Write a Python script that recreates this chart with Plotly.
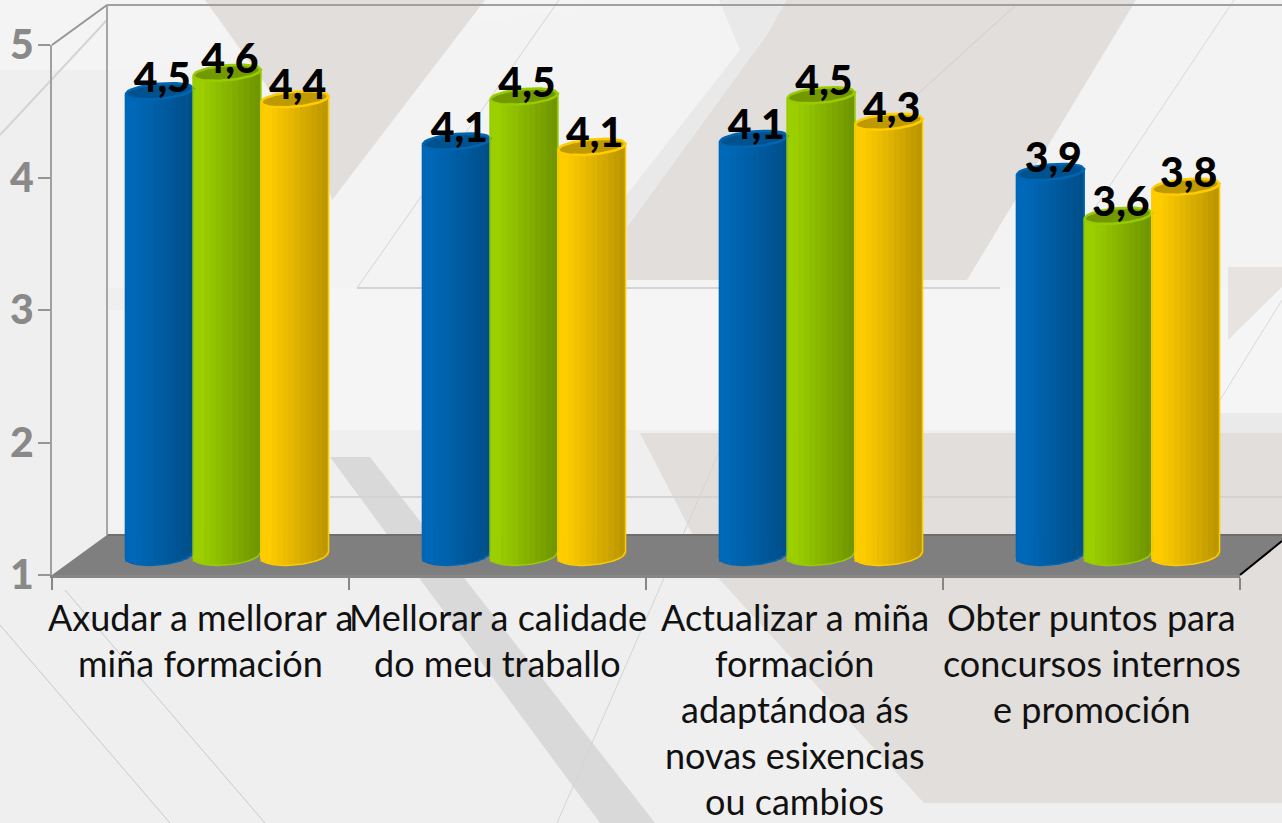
import math
import plotly.graph_objects as go

W, H = 1282, 823
categories = [
    ["Axudar a mellorar a", "miña formación"],
    ["Mellorar a calidade", "do meu traballo"],
    ["Actualizar a miña", "formación", "adaptándoa ás", "novas esixencias", "ou cambios"],
    ["Obter puntos para", "concursos internos", "e promoción"],
]
series_a = [4.50, 4.12, 4.14, 3.89]
series_b = [4.64, 4.46, 4.47, 3.56]
series_c = [4.44, 4.08, 4.27, 3.78]
y_ticks = [1, 2, 3, 4, 5]
palette = {
    "a": ("#0068B8", "#004F8A", "#00528F", "#0066B3"),
    "b": ("#9CCF00", "#709600", "#729900", "#99CC00"),
    "c": ("#FFCC00", "#BD9700", "#BF9900", "#FFCC00"),
}

# geometry of the fake 3D box, in page pixels
X0, X1, YB, YT = 52, 1240, 575, 45
CAT_PX = (X1 - X0) / 4
UNIT_PX = (YB - YT) / 4
BAR_X0, BAR_Y1 = 227, 555   # page position of group 0 centre / value 1 for the cylinders
BW = 0.228


def px_path(pts):
    return "M" + "L".join(f"{x/W:.5f},{1-y/H:.5f}" for x, y in pts) + "Z"


def poly(pts, color, opacity=1.0):
    return dict(type="path", xref="paper", yref="paper", path=px_path(pts), fillcolor=color,
                line=dict(width=0), layer="below", opacity=opacity)


def ln(p, q, color, width=1):
    return dict(type="line", xref="paper", yref="paper", x0=p[0]/W, y0=1-p[1]/H, x1=q[0]/W, y1=1-q[1]/H,
                line=dict(color=color, width=width), layer="below")


TAUPE = "#E1DEDB"
shapes = [
    poly([(0, 0), (W, 0), (W, H), (0, H)], "#EFEFEF"),
    poly([(0, 0), (W, 0), (W, 70), (0, 70)], "#F4F4F4"),
    poly([(107, 70), (600, 5), (W, 5), (W, 288), (107, 288)], "#F3F3F3"),
    poly([(205, 0), (485, 0), (332, 200), (320, 160)], TAUPE),
    poly([(786, 0), (1136, 0), (967, 280), (627, 280), (627, 227), (768, 33)], TAUPE),
    poly([(719, 0), (786, 0), (768, 33), (627, 227), (600, 280), (560, 280), (740, 50)], "#E9E9E9"),
    poly([(330, 288), (W, 288), (W, 430), (330, 430)], "#F5F5F5"),
    poly([(107, 310), (330, 310), (330, 530), (107, 530)], "#F3F3F3"),
    poly([(640, 433), (W, 433), (W, 803), (924, 803), (711, 570)], TAUPE),
    poly([(1228, 267), (W, 267), (W, 287), (1228, 340)], "#E6E3E1"),
    poly([(1100, 413), (W, 413), (W, 433), (1100, 433)], "#EAEAEA"),
    poly([(330, 457), (370, 457), (655, 823), (600, 823)], "#D9D9D9"),
    ln((559, 0), (357, 288), "#D4D4D4"),
    ln((357, 288), (1000, 288), "#D4D4D4", 2),
    ln((330, 497), (W, 497), "#D4D4D4", 2),
    ln((1016, 5), (900, 110), "#D0CDCA"),
    ln((1234, 0), (1040, 290), "#D8D8D8"),
    ln((720, 450), (557, 823), "#D4D4D4"),
    ln((0, 625), (170, 823), "#C8C8C8"),
    ln((65, 590), (265, 823), "#C8C8C8"),
    ln((0, 135), (107, 20), "#D4D4D4", 2),
    ln((W, 300), (1220, 400), "#D8D8D8"),
    # box: floor and walls
    poly([(X0, YB), (107, 535), (W, 535), (W, 541), (X1, YB)], "#7F7F7F"),
    ln((107, 535), (W, 535), "#6E6E6E", 2),
    ln((107, 5), (W, 5), "#A0A0A0", 2),
    ln((107, 5), (107, 535), "#A6A6A6", 2),
    ln((X0, YT), (107, 5), "#969696", 2),
    ln((X1, YB), (W, 541), "#000000", 2),
]

fig = go.Figure()

# invisible carrier so that the front axes exist
fig.add_trace(go.Scatter(x=[-0.5, 3.5], y=[1, 5], mode="markers", marker=dict(opacity=0),
                         hoverinfo="skip", xaxis="x", yaxis="y", showlegend=False))

N = 12
DX = 1 / CAT_PX
DY = 1 / UNIT_PX


def hexmix(c1, c2, f):
    a = [int(c1[i:i+2], 16) for i in (1, 3, 5)]
    b = [int(c2[i:i+2], 16) for i in (1, 3, 5)]
    return "#%02X%02X%02X" % tuple(round(p + (q - p) * f) for p, q in zip(a, b))


def tilt(t):
    return 3 * t


def arc(t):
    return math.sqrt(max(0.0, 1 - t * t))


for off, vals, key in ((-BW, series_a, "a"), (0, series_b, "b"), (BW, series_c, "c")):
    light, dark, cap, edge = palette[key]
    xs = list(range(len(vals)))
    for s in range(N):
        t = -1 + (2 * s + 1) / N
        f = max(0.0, (s - 1) / (N - 2))
        base = [1 - (10 * arc(t) - tilt(t)) * DY for _ in vals]
        tops = [v + tilt(t) * DY - b for v, b in zip(vals, base)]
        fig.add_trace(go.Bar(
            x=[i + off + t * BW / 2 for i in xs], y=tops, base=base,
            width=BW / N * 1.12, marker=dict(color=hexmix(light, dark, f), line=dict(width=0)),
            hoverinfo="skip", showlegend=False, xaxis="x2", yaxis="y2"))
    # outline of body and the top cap, computed from the values
    ox, oy, cx, cy = [], [], [], []
    ts = [-1 + 2 * k / 24 for k in range(25)]
    for i, v in enumerate(vals):
        c = i + off
        ox += [c - BW / 2, *[c + t * BW / 2 for t in ts], c + BW / 2, None]
        oy += [v + tilt(-1) * DY, *[1 + (tilt(t) - 10 * arc(t)) * DY for t in ts], v + tilt(1) * DY, None]
        cx += [c + t * BW / 2 for t in ts] + [c + t * BW / 2 for t in reversed(ts)] + [None]
        cy += [v + (tilt(t) + 7.5 * arc(t)) * DY for t in ts] + [v + (tilt(t) - 7.5 * arc(t)) * DY for t in reversed(ts)] + [None]
    fig.add_trace(go.Scatter(x=ox, y=oy, mode="lines", line=dict(color=edge, width=1.5), hoverinfo="skip",
                             showlegend=False, xaxis="x2", yaxis="y2"))
    fig.add_trace(go.Scatter(x=cx, y=cy, mode="lines", fill="toself", fillcolor=cap, line=dict(color=edge, width=2.5),
                             hoverinfo="skip", showlegend=False, xaxis="x2", yaxis="y2"))

lab_x, lab_y, lab_t = [], [], []
for off, vals in ((-BW, series_a), (0, series_b), (BW, series_c)):
    for i, v in enumerate(vals):
        lab_x.append(i + off + 3 * DX)
        lab_y.append(v + 10 * DY)
        lab_t.append(f"{v:.1f}".replace(".", ","))
fig.add_trace(go.Scatter(x=lab_x, y=lab_y, text=lab_t, mode="text", cliponaxis=False,
                         textfont=dict(family="Lato", size=41, color="#000000", weight=900),
                         hoverinfo="skip", showlegend=False, xaxis="x2", yaxis="y2"))

annotations = []
for i, lines in enumerate(categories):
    for k, line in enumerate(lines):
        annotations.append(dict(x=i, xref="x", y=1 - (617 + 46 * k) / H, yref="paper", text=line, showarrow=False,
                                xanchor="center", yanchor="middle", font=dict(family="Lato", size=36, color="#111111")))

fig.update_layout(
    width=W, height=H, autosize=False, margin=dict(l=0, r=0, t=0, b=0, autoexpand=False),
    paper_bgcolor="#EFEFEF", plot_bgcolor="rgba(0,0,0,0)", barmode="overlay", showlegend=False,
    shapes=shapes, annotations=annotations,
    xaxis=dict(domain=[X0 / W, X1 / W], range=[-0.5, 3.5], tickmode="array", tickvals=[-0.5, 0.5, 1.5, 2.5, 3.5],
               showticklabels=False, ticks="outside", ticklen=12, tickcolor="#868686", tickwidth=2, anchor="y",
               showline=True, linecolor="#868686", linewidth=3, showgrid=False, zeroline=False, fixedrange=True),
    yaxis=dict(domain=[1 - YB / H, 1 - YT / H], range=[1, 5], tickmode="array", tickvals=y_ticks,
               ticks="outside", ticklen=12, tickcolor="#969696", tickwidth=2, anchor="x", ticklabelstandoff=-4,
               tickfont=dict(family="Lato", size=41, color="#898989", weight=900),
               showline=True, linecolor="#A0A0A0", linewidth=2, showgrid=False, zeroline=False, fixedrange=True),
    xaxis2=dict(domain=[0, 1], range=[-BAR_X0 / CAT_PX, (W - BAR_X0) / CAT_PX], anchor="y2", visible=False, fixedrange=True),
    yaxis2=dict(domain=[0, 1], range=[1 - (H - BAR_Y1) / UNIT_PX, 1 + BAR_Y1 / UNIT_PX], anchor="x2", visible=False, fixedrange=True),
)

fig.write_html("out.html", config=dict(displayModeBar=False),
               post_script="document.body.style.margin='0';document.body.style.overflow='hidden';")
